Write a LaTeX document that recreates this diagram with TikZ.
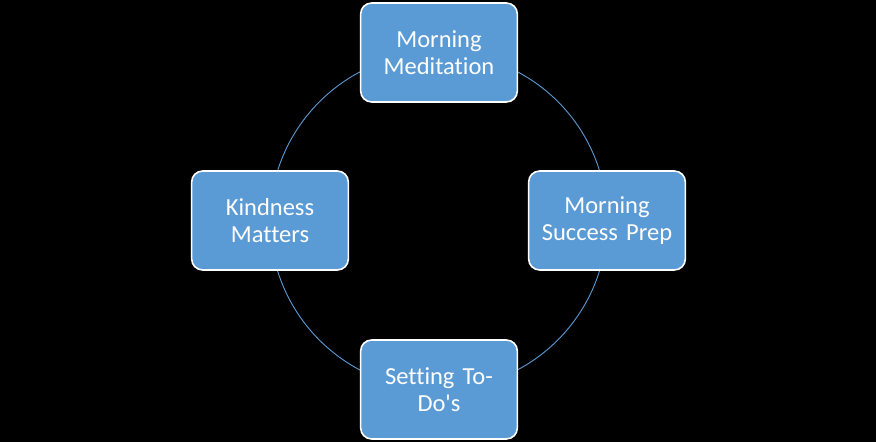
\documentclass[tikz,border=0pt]{standalone}
\usepackage{fontspec}
\newfontfamily\boxfont[Ligatures=NoCommon]{Carlito}
\usetikzlibrary{backgrounds}
\definecolor{boxblue}{HTML}{5B9BD5}
\begin{document}
\begin{tikzpicture}[x=1pt,y=1pt,
  cyclebox/.style={rectangle, rounded corners=11pt, fill=boxblue, draw=white, line width=1.6pt,
    minimum width=156pt, minimum height=99pt, text width=150pt, align=center,
    text=white, font=\boxfont\fontsize{24.5}{27}\selectfont},
  ring/.style={draw=boxblue, line width=0.9pt}]
\useasboundingbox (0,0) rectangle (876,442);
\node[cyclebox] (top) at (439,389.5) {Morning\\Meditation};
\node[cyclebox] (right) at (607,221.5) {Morning\\Success Prep};
\node[cyclebox] (bottom) at (439,52.5) {Setting To-\\Do's};
\node[cyclebox] (left) at (270,221.5) {Kindness\\Matters};
\begin{scope}[on background layer]
\fill[black] (0,0) rectangle (876,442);
\draw[ring] (top.center) to[bend left=45] (right.center);
\draw[ring] (right.center) to[bend left=45] (bottom.center);
\draw[ring] (bottom.center) to[bend left=45] (left.center);
\draw[ring] (left.center) to[bend left=45] (top.center);
\end{scope}
\end{tikzpicture}
\end{document}
